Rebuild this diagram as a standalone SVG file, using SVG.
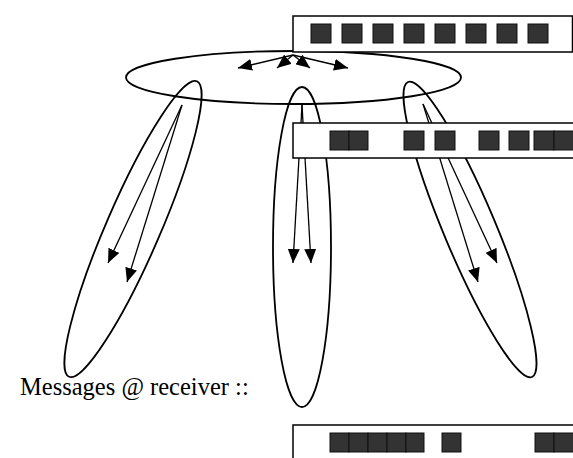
<svg xmlns="http://www.w3.org/2000/svg" width="573" height="458" viewBox="0 0 573 458">
<style>
.ell{fill:none;stroke:#000;stroke-width:1.8}
.box{fill:#fff;stroke:#000;stroke-width:1.5}
.sq{fill:#333;stroke:#111;stroke-width:1}
.arr{fill:none;stroke:#000;stroke-width:1.3;marker-end:url(#ah)}
.lbl{font-family:"Liberation Serif","Times New Roman",serif;font-size:24.5px;fill:#000}
</style>
<defs>
<marker id="ah" markerUnits="userSpaceOnUse" markerWidth="15" markerHeight="12" refX="14" refY="6" orient="auto">
<path d="M0,0 L14,6 L0,12 z" fill="#000"/>
</marker>
</defs>
<rect width="573" height="458" fill="#fff"/>
<g id="broadcast">
<ellipse class="ell" cx="293.5" cy="77.5" rx="167.5" ry="26.5"/>
</g>
<g id="group-left">
<ellipse class="ell" cx="133" cy="229" rx="27" ry="161" transform="rotate(23.4 133 229)"/>
</g>
<g id="group-middle">
<ellipse class="ell" cx="302" cy="247" rx="29" ry="160"/>
</g>
<g id="group-right">
<ellipse class="ell" cx="470" cy="229.5" rx="26" ry="160" transform="rotate(-22.8 470 229.5)"/>
</g>
<g id="connectors">
<line class="arr" x1="293" y1="55" x2="238" y2="68"/>
<line class="arr" x1="293" y1="55" x2="277" y2="68"/>
<line class="arr" x1="293" y1="55" x2="310" y2="68"/>
<line class="arr" x1="293" y1="55" x2="348" y2="68"/>
<line class="arr" x1="182" y1="105" x2="108" y2="263"/>
<line class="arr" x1="182" y1="105" x2="127" y2="282"/>
<line class="arr" x1="302" y1="105" x2="293" y2="263"/>
<line class="arr" x1="302" y1="105" x2="311" y2="263"/>
<line class="arr" x1="423" y1="104" x2="478" y2="282"/>
<line class="arr" x1="423" y1="104" x2="497" y2="263"/>
</g>
<g id="sender-queue">
<rect class="box" x="293" y="16" width="279.5" height="36"/>
<rect class="sq" x="311" y="24" width="20" height="19"/>
<rect class="sq" x="342" y="24" width="20" height="19"/>
<rect class="sq" x="373" y="24" width="20" height="19"/>
<rect class="sq" x="404" y="24" width="20" height="19"/>
<rect class="sq" x="435" y="24" width="20" height="19"/>
<rect class="sq" x="466" y="24" width="20" height="19"/>
<rect class="sq" x="497" y="24" width="20" height="19"/>
<rect class="sq" x="528" y="24" width="20" height="19"/>
</g>
<g id="middle-queue">
<rect class="box" x="293" y="123" width="290" height="35"/>
<rect class="sq" x="330" y="131" width="19" height="19"/>
<rect class="sq" x="349" y="131" width="19" height="19"/>
<rect class="sq" x="404" y="131" width="20" height="19"/>
<rect class="sq" x="435" y="131" width="20" height="19"/>
<rect class="sq" x="479" y="131" width="20" height="19"/>
<rect class="sq" x="509" y="131" width="20" height="19"/>
<rect class="sq" x="534" y="131" width="20" height="19"/>
<rect class="sq" x="554" y="131" width="20" height="19"/>
</g>
<g id="receiver-queue">
<rect class="box" x="293" y="425" width="290" height="40"/>
<rect class="sq" x="330" y="433" width="19" height="19"/>
<rect class="sq" x="349" y="433" width="19" height="19"/>
<rect class="sq" x="368" y="433" width="19" height="19"/>
<rect class="sq" x="387" y="433" width="19" height="19"/>
<rect class="sq" x="406" y="433" width="18" height="19"/>
<rect class="sq" x="442" y="433" width="19" height="19"/>
<rect class="sq" x="535" y="433" width="19" height="19"/>
<rect class="sq" x="554" y="433" width="20" height="19"/>
</g>
<g id="label">
<text class="lbl" x="20" y="395">Messages @ receiver ::</text>
</g>
</svg>
